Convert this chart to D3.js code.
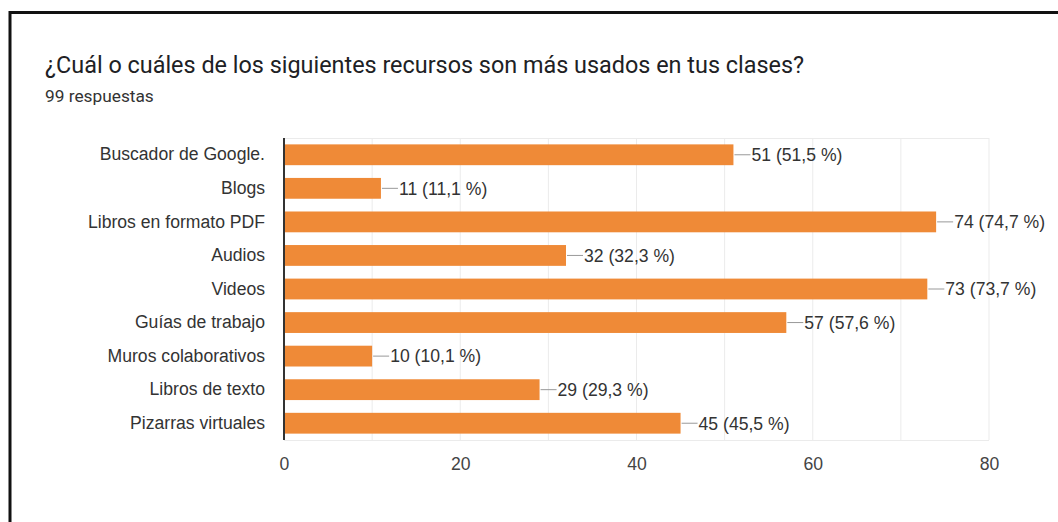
<!DOCTYPE html>
<html>
<head>
<meta charset="utf-8">
<script src="https://cdn.jsdelivr.net/npm/d3@7"></script>
<style>
  html, body { margin: 0; padding: 0; background: #fff; }
</style>
</head>
<body>
<div id="chart"></div>
<script>
const title = '¿Cuál o cuáles de los siguientes recursos son más usados en tus clases?';
const subtitle = '99 respuestas';
const categories = ['Buscador de Google.', 'Blogs', 'Libros en formato PDF', 'Audios', 'Videos',
  'Guías de trabajo', 'Muros colaborativos', 'Libros de texto', 'Pizarras virtuales'];
const counts = [51, 11, 74, 32, 73, 57, 10, 29, 45];
const percents = ['51,5', '11,1', '74,7', '32,3', '73,7', '57,6', '10,1', '29,3', '45,5'];
const xTicks = [0, 20, 40, 60, 80];
const xGrid = [10, 20, 30, 40, 50, 60, 70, 80];

const width = 1058;
const height = 522;
const margin = { top: 138, right: 69, bottom: 82, left: 284 };
const labelFont = 'Liberation Sans, Arial';
const labelSize = 17.6;

const svg = d3.select('#chart')
  .append('svg')
  .attr('width', width)
  .attr('height', height);

// outer frame (only left and top edges are inside the shot)
svg.append('path')
  .attr('d', `M10,${height} V12.5 H${width}`)
  .attr('fill', 'none')
  .attr('stroke', '#111')
  .attr('stroke-width', 3);

svg.append('text')
  .attr('x', 45)
  .attr('y', 73)
  .attr('font-family', 'Roboto')
  .attr('font-size', 23.4)
  .attr('fill', '#202124')
  .text(title);

svg.append('text')
  .attr('x', 45)
  .attr('y', 102)
  .attr('font-family', 'Roboto')
  .attr('font-size', 17.3)
  .attr('fill', '#333')
  .text(subtitle);

const x = d3.scaleLinear()
  .domain([0, 80])
  .range([margin.left, width - margin.right]);

const y = d3.scaleBand()
  .domain(categories)
  .range([margin.top, height - margin.bottom])
  .paddingInner(0.38)
  .paddingOuter(0.19);

const plot = svg.append('g');

// grid
plot.selectAll('.grid')
  .data(xGrid)
  .join('line')
  .attr('x1', (d) => x(d))
  .attr('x2', (d) => x(d))
  .attr('y1', margin.top)
  .attr('y2', height - margin.bottom)
  .attr('stroke', '#ebebeb')
  .attr('stroke-width', 1);

plot.append('line')
  .attr('x1', margin.left)
  .attr('x2', x(80))
  .attr('y1', margin.top + 0.5)
  .attr('y2', margin.top + 0.5)
  .attr('stroke', '#ebebeb');

plot.append('line')
  .attr('x1', margin.left)
  .attr('x2', x(80))
  .attr('y1', height - margin.bottom + 0.5)
  .attr('y2', height - margin.bottom + 0.5)
  .attr('stroke', '#ebebeb');

// bars
plot.selectAll('.bar')
  .data(counts)
  .join('rect')
  .attr('x', x(0))
  .attr('y', (d, i) => y(categories[i]))
  .attr('width', (d) => x(d) - x(0))
  .attr('height', y.bandwidth())
  .attr('fill', '#ef8a37');

// leader lines and value labels
plot.selectAll('.leader')
  .data(counts)
  .join('line')
  .attr('x1', (d) => x(d) + 1)
  .attr('x2', (d) => x(d) + 17)
  .attr('y1', (d, i) => y(categories[i]) + y.bandwidth() / 2)
  .attr('y2', (d, i) => y(categories[i]) + y.bandwidth() / 2)
  .attr('stroke', '#999')
  .attr('stroke-width', 1);

plot.selectAll('.value')
  .data(counts)
  .join('text')
  .attr('x', (d) => x(d) + 18)
  .attr('y', (d, i) => y(categories[i]) + y.bandwidth() / 2)
  .attr('dy', '0.36em')
  .attr('font-family', labelFont)
  .attr('font-size', labelSize)
  .attr('fill', '#333')
  .text((d, i) => `${d} (${percents[i]} %)`);

// y axis
const yAxis = d3.axisLeft(y).tickSize(0).tickPadding(19);
const gy = svg.append('g')
  .attr('transform', `translate(${margin.left},0)`)
  .call(yAxis);
gy.select('.domain').remove();
gy.selectAll('text')
  .attr('font-family', labelFont)
  .attr('font-size', labelSize)
  .attr('fill', '#333');

svg.append('line')
  .attr('x1', margin.left)
  .attr('x2', margin.left)
  .attr('y1', margin.top)
  .attr('y2', height - margin.bottom)
  .attr('stroke', '#333')
  .attr('stroke-width', 2);

// x axis
const xAxis = d3.axisBottom(x).tickValues(xTicks).tickSize(0).tickPadding(18);
const gx = svg.append('g')
  .attr('transform', `translate(0,${height - margin.bottom})`)
  .call(xAxis);
gx.select('.domain').remove();
gx.selectAll('text')
  .attr('font-family', labelFont)
  .attr('font-size', labelSize)
  .attr('fill', '#444');
</script>
</body>
</html>
